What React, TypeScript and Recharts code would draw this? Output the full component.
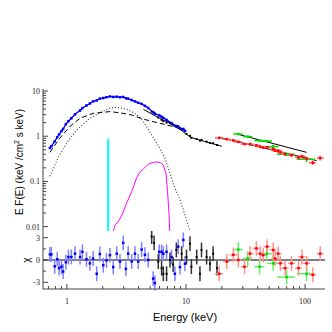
import { ComposedChart, Line, Scatter, XAxis, YAxis, ErrorBar, ReferenceLine } from 'recharts';

// blue points: [E keV, E F(E), chi]
const blueData = [
  [0.72, 0.55, 0.75], [0.74, 0.6, 0.75], [0.79, 0.77, -0.85], [0.83, 0.95, 0.1],
  [0.86, 1.1, -1.1], [0.9, 1.3, -0.9], [0.93, 1.45, -1.55], [0.98, 1.85, -0.3],
  [1.03, 2.15, 0.4], [1.09, 2.5, 0.4], [1.17, 3.05, 0.85], [1.29, 3.7, 0.4],
  [1.35, 4.2, 1.1], [1.46, 4.8, 0.1], [1.56, 5.3, -0.45], [1.66, 5.9, 0.2],
  [1.78, 6.2, -1.85], [1.89, 6.8, 0.8], [2.02, 7.0, -0.7], [2.15, 7.3, -0.05],
  [2.3, 7.6, 0.65], [2.45, 7.4, -0.95], [2.62, 7.5, 0.85], [2.79, 7.3, -0.2],
  [2.97, 7.4, 2.3], [3.13, 6.9, -1.2], [3.27, 6.8, 0.85], [3.5, 6.3, -0.2],
  [3.73, 5.9, 0.85], [3.97, 5.5, -0.2], [4.24, 5.2, 1.4], [4.52, 4.7, 0.7],
  [4.82, 4.2, 0], [5.3, 3.4, -2.5], [5.48, 3.15, -3.1], [5.96, 2.9, 1.1],
  [6.24, 2.7, 1.1], [6.45, 2.55, 0.85], [6.87, 2.3, 1.1], [7.56, 1.95, 0.4],
  [8.07, 1.7, -1.85], [8.6, 1.65, 1.8], [8.9, 1.5, -0.95], [9.5, 1.45, 2.7],
  [9.8, 1.32, -0.5],
];

// black points: [E, E F(E), chi]
const blackData = [
  [5.15, 3.5, 3.15], [5.4, 3.25, 2.3], [5.85, 2.6, -0.2], [6.24, 2.3, -1.1],
  [6.45, 2.15, -1.85], [6.87, 2.0, -1.85], [7.34, 1.95, 0], [7.8, 1.8, -0.6],
  [8.3, 1.7, 1.35], [9.2, 1.4, 0.85], [10.1, 1.13, 0.4], [10.8, 1.02, 2.2],
  [11.1, 0.92, -0.9], [12.3, 0.87, 0.4], [13.1, 0.8, -1.85], [13.5, 0.83, 1.35],
  [14.9, 0.76, 0.4], [15.9, 0.71, -0.5], [16.9, 0.7, 0.85], [18.2, 0.64, -1.1],
];

// red points: [E, dE, E F(E), dEF, chi]
const redData = [
  [19, 1.5, 0.92, 0.03, -1.85], [22, 1.6, 0.86, 0.03, -0.2], [25, 1.8, 0.81, 0.03, 0.7],
  [27.5, 2, 0.75, 0.03, 0], [31, 2.2, 0.67, 0.03, -0.9], [34.5, 2.4, 0.67, 0.03, 0.85],
  [39, 2.6, 0.63, 0.03, 1.55], [42, 2.8, 0.59, 0.03, 0.85], [44.5, 3, 0.56, 0.03, 0.65],
  [48, 3.2, 0.57, 0.03, 1.8], [54, 3.6, 0.52, 0.03, 1.35], [56, 3.8, 0.48, 0.03, 0.2],
  [59.5, 4, 0.48, 0.03, 0.85], [62, 4.2, 0.44, 0.03, -0.45], [68, 4.6, 0.4, 0.03, -1.1],
  [77, 5.2, 0.38, 0.03, -0.45], [88, 6, 0.34, 0.03, -1.1], [94, 6.5, 0.36, 0.03, 0.4],
  [103, 7, 0.32, 0.03, -0.45], [116, 8, 0.26, 0.03, -2.0], [134, 9, 0.33, 0.04, 0.85],
];

// green points: [E, dE, E F(E), dEF, chi]
const greenData = [
  [27.5, 2.5, 1.12, 0.05, 1.4], [33, 3, 0.98, 0.05, 0.2], [41.5, 4, 0.8, 0.05, -0.9],
  [47.7, 5, 0.78, 0.05, 0.85], [54, 6, 0.59, 0.05, -0.45], [70, 12, 0.4, 0.04, -2.3],
  [103, 18, 0.31, 0.04, -1.85],
];

// model components [E, E F(E)]
const dashedComp = [
  [0.72, 0.44], [0.87, 0.9], [1.06, 1.65], [1.29, 2.5], [1.66, 3.2], [2.0, 3.4],
  [2.3, 3.5], [2.8, 3.3], [3.5, 2.95], [4.37, 2.4], [5.3, 2.1], [6.0, 1.95],
  [7.0, 1.75], [7.8, 1.65], [8.9, 1.45], [10.1, 1.3],
];
const dottedComp = [
  [0.72, 0.13], [0.85, 0.35], [1.0, 0.72], [1.2, 1.35], [1.56, 2.5], [2.0, 3.55],
  [2.3, 4.2], [2.6, 4.35], [3.2, 4.0], [3.8, 3.1], [4.37, 2.15], [5.3, 0.95],
  [6.0, 0.55], [6.65, 0.33], [7.34, 0.15], [8.0, 0.075], [8.9, 0.04], [9.8, 0.018],
  [10.8, 0.008],
];
const lineComp = [
  [2.45, 0.008], [2.55, 0.011], [2.7, 0.013], [2.9, 0.018], [3.17, 0.033], [3.5, 0.06],
  [3.85, 0.12], [4.1, 0.16], [4.5, 0.2], [4.82, 0.24], [5.2, 0.26], [5.67, 0.27],
  [6.1, 0.26], [6.45, 0.23], [6.8, 0.15], [7.0, 0.06], [7.2, 0.02], [7.3, 0.008],
];
const narrowLine = [[2.22, 0.008], [2.22, 0.88]];
const blackModel = [
  [4.4, 3.9], [5.3, 3.0], [6.0, 2.5], [7.0, 2.05], [8.0, 1.7], [9.0, 1.4], [10.0, 1.12],
  [10.8, 0.97], [12, 0.87], [14, 0.78], [16, 0.71], [18, 0.65], [20, 0.6],
];
const redModel = [[18.7, 0.95], [125, 0.29]];
const greenModel = [[27.5, 1.1], [103, 0.44]];

const xTicks = [0.7, 0.8, 0.9, 1, 2, 3, 4, 5, 6, 7, 8, 9, 10, 20, 30, 40, 50, 60, 70, 80, 90, 100];
const xMajor = [1, 10, 100];
const yTicks = [
  0.01, 0.02, 0.03, 0.04, 0.05, 0.06, 0.07, 0.08, 0.09,
  0.1, 0.2, 0.3, 0.4, 0.5, 0.6, 0.7, 0.8, 0.9,
  1, 2, 3, 4, 5, 6, 7, 8, 9, 10,
];
const yMajor = [0.01, 0.1, 1, 10];
const resTicks = [-3, -1.5, 0, 1.5, 3];
const resMajor = [-3, 0, 3];

const X_DOMAIN = [0.63, 147];
const Y_DOMAIN = [0.008, 11.1];
const RES_DOMAIN = [-3.9, 3.9];
const FRAME = '#444';
const SERIF = 'Liberation Serif, serif';
const SANS = 'Liberation Sans, Arial, sans-serif';

const pts = (rows: number[][]) => rows.map(([e, v]) => ({ e, v }));
const bluePts = blueData.map(([e, v, r]) => ({ e, v, r, er: 1 }));
const blackPts = blackData.map(([e, v, r]) => ({ e, v, r, er: 1 }));
const redPts = redData.map(([e, ex, v, ey, r]) => ({ e, ex, v, ey, r, er: 1 }));
const greenPts = greenData.map(([e, ex, v, ey, r]) => ({ e, ex, v, ey, r, er: 1 }));

const sq = (color: string, s = 3) => (p: any) => (
  <rect key={p.index} x={p.cx - s / 2} y={p.cy - s / 2} width={s} height={s} fill={color} />
);

const makeTick = (side: string, majors: number[], label: boolean) => (p: any) => {
  const { x, y, payload } = p;
  const val = payload.value;
  const major = majors.some((m) => Math.abs(m - val) < 1e-9);
  const len = major ? 5 : 3;
  let ln;
  if (side === 'bottom') ln = <line x1={x} x2={x} y1={y} y2={y - len} stroke={FRAME} />;
  else if (side === 'top') ln = <line x1={x} x2={x} y1={y} y2={y + len} stroke={FRAME} />;
  else if (side === 'left') ln = <line x1={x} x2={x + len} y1={y} y2={y} stroke={FRAME} />;
  else ln = <line x1={x} x2={x - len} y1={y} y2={y} stroke={FRAME} />;
  return (
    <g>
      {ln}
      {label && major && side === 'bottom' && (
        <text x={x} y={y + 15} textAnchor="middle" fontFamily={SERIF} fontSize={8} fill="#222">
          {val}
        </text>
      )}
      {label && major && side === 'left' && (
        <text x={x - 3} y={y + 3} textAnchor="end" fontFamily={SERIF} fontSize={8} fill="#222">
          {val}
        </text>
      )}
    </g>
  );
};

const axisCommon = { tickSize: 0, tickMargin: 0, interval: 0 as const, axisLine: { stroke: FRAME } };

export default function App() {
  return (
    <div style={{ position: 'absolute', left: 0, top: 0, width: 332, height: 332, background: '#fff' }}>
      <div style={{ position: 'absolute', left: 0, top: 0 }}>
        <ComposedChart width={332} height={231} margin={{ top: 89, right: 7, bottom: 0, left: 0 }}>
          <XAxis xAxisId="b" dataKey="e" type="number" scale="log" domain={X_DOMAIN} allowDataOverflow
            ticks={xTicks} height={0} tick={makeTick('bottom', xMajor, false)} {...axisCommon} />
          <XAxis xAxisId="t" orientation="top" dataKey="e" type="number" scale="log" domain={X_DOMAIN} allowDataOverflow
            ticks={xTicks} height={0} tick={makeTick('top', xMajor, false)} {...axisCommon} />
          <YAxis yAxisId="l" dataKey="v" type="number" scale="log" domain={Y_DOMAIN} allowDataOverflow
            ticks={yTicks} width={43} tick={makeTick('left', yMajor, true)} {...axisCommon} />
          <YAxis yAxisId="r" orientation="right" dataKey="v" type="number" scale="log" domain={Y_DOMAIN} allowDataOverflow
            ticks={yTicks} width={0} tick={makeTick('right', yMajor, false)} {...axisCommon} />

          <Line xAxisId="b" yAxisId="l" data={pts(dottedComp)} dataKey="v" stroke="#444" strokeWidth={1.2}
            strokeDasharray="1 2" dot={false} isAnimationActive={false} />
          <Line xAxisId="b" yAxisId="l" data={pts(dashedComp)} dataKey="v" stroke="#000" strokeWidth={1}
            strokeDasharray="5 3" dot={false} isAnimationActive={false} />
          <Line xAxisId="b" yAxisId="l" data={pts(lineComp)} dataKey="v" stroke="#ff00ff" strokeWidth={1}
            dot={false} isAnimationActive={false} />
          <Line xAxisId="b" yAxisId="l" data={pts(narrowLine)} dataKey="v" stroke="#00ffff" strokeWidth={2}
            dot={false} isAnimationActive={false} />
          <Line xAxisId="b" yAxisId="l" data={pts(blackModel)} dataKey="v" stroke="#000" strokeWidth={1}
            dot={false} isAnimationActive={false} />
          <Line xAxisId="b" yAxisId="l" data={pts(redModel)} dataKey="v" stroke="#000" strokeWidth={1}
            dot={false} isAnimationActive={false} />
          <Line xAxisId="b" yAxisId="l" data={pts(greenModel)} dataKey="v" stroke="#000" strokeWidth={1}
            dot={false} isAnimationActive={false} />

          <Scatter xAxisId="b" yAxisId="l" data={blackPts} dataKey="v" shape={sq('#000', 2)} isAnimationActive={false} />
          <Line xAxisId="b" yAxisId="l" data={bluePts} dataKey="v" stroke="#0000ff" strokeWidth={1.3}
            dot={sq('#0000ff', 2.5)} isAnimationActive={false} />
          <Scatter xAxisId="b" yAxisId="l" data={greenPts} dataKey="v" shape={sq('#00dd00', 2.5)} isAnimationActive={false}>
            <ErrorBar dataKey="ex" direction="x" stroke="#00dd00" width={0} />
            <ErrorBar dataKey="ey" direction="y" stroke="#00dd00" width={0} />
          </Scatter>
          <Scatter xAxisId="b" yAxisId="l" data={redPts} dataKey="v" shape={sq('#ff0000', 2.5)} isAnimationActive={false}>
            <ErrorBar dataKey="ex" direction="x" stroke="#ff6060" width={0} />
            <ErrorBar dataKey="ey" direction="y" stroke="#ff6060" width={0} />
          </Scatter>
        </ComposedChart>
      </div>

      <div style={{ position: 'absolute', left: 0, top: 231 }}>
        <ComposedChart width={332} height={101} margin={{ top: 0, right: 7, bottom: 0, left: 0 }}>
          <XAxis xAxisId="b" dataKey="e" type="number" scale="log" domain={X_DOMAIN} allowDataOverflow
            ticks={xTicks} height={43} tick={makeTick('bottom', xMajor, true)} {...axisCommon} />
          <XAxis xAxisId="t" orientation="top" dataKey="e" type="number" scale="log" domain={X_DOMAIN} allowDataOverflow
            ticks={xTicks} height={0} tick={false} tickLine={false} axisLine={{ stroke: '#777', strokeWidth: 2 }} />
          <YAxis yAxisId="l" dataKey="r" type="number" domain={RES_DOMAIN} allowDataOverflow
            ticks={resTicks} width={43} tick={makeTick('left', resMajor, true)} {...axisCommon} />
          <YAxis yAxisId="r" orientation="right" dataKey="r" type="number" domain={RES_DOMAIN} allowDataOverflow
            ticks={resTicks} width={0} tick={makeTick('right', resMajor, false)} {...axisCommon} />
          <ReferenceLine xAxisId="b" yAxisId="l" y={0} stroke="#000" strokeWidth={1} />

          <Scatter xAxisId="b" yAxisId="l" data={bluePts} dataKey="r" shape={sq('#0000ff', 2.5)} isAnimationActive={false}>
            <ErrorBar dataKey="er" direction="y" stroke="#8080ff" width={0} />
          </Scatter>
          <Scatter xAxisId="b" yAxisId="l" data={blackPts} dataKey="r" shape={sq('#000', 2)} isAnimationActive={false}>
            <ErrorBar dataKey="er" direction="y" stroke="#333" width={0} />
          </Scatter>
          <Scatter xAxisId="b" yAxisId="l" data={greenPts} dataKey="r" shape={sq('#00dd00', 2.5)} isAnimationActive={false}>
            <ErrorBar dataKey="ex" direction="x" stroke="#66ee66" width={0} />
            <ErrorBar dataKey="er" direction="y" stroke="#66ee66" width={0} />
          </Scatter>
          <Scatter xAxisId="b" yAxisId="l" data={redPts} dataKey="r" shape={sq('#ff0000', 2.5)} isAnimationActive={false}>
            <ErrorBar dataKey="ex" direction="x" stroke="#ff9090" width={0} />
            <ErrorBar dataKey="er" direction="y" stroke="#ff9090" width={0} />
          </Scatter>
        </ComposedChart>
      </div>

      <div style={{
        position: 'absolute', left: 20 - 80, top: 162 - 7, width: 160, height: 14, textAlign: 'center',
        transform: 'rotate(-90deg)', fontFamily: SANS, fontSize: 10, lineHeight: '14px', color: '#000', whiteSpace: 'nowrap',
      }}>
        E F(E) (keV /cm<sup style={{ fontSize: 7, lineHeight: 0 }}>2</sup> s keV)
      </div>
      <div style={{
        position: 'absolute', left: 27 - 10, top: 260 - 7, width: 20, height: 14, textAlign: 'center',
        transform: 'rotate(-90deg)', fontFamily: SANS, fontSize: 10, lineHeight: '14px', color: '#000',
      }}>
        χ
      </div>
      <div style={{
        position: 'absolute', left: 185 - 60, top: 310, width: 120, textAlign: 'center',
        fontFamily: SANS, fontSize: 11, lineHeight: '14px', color: '#000',
      }}>
        Energy (keV)
      </div>
    </div>
  );
}
